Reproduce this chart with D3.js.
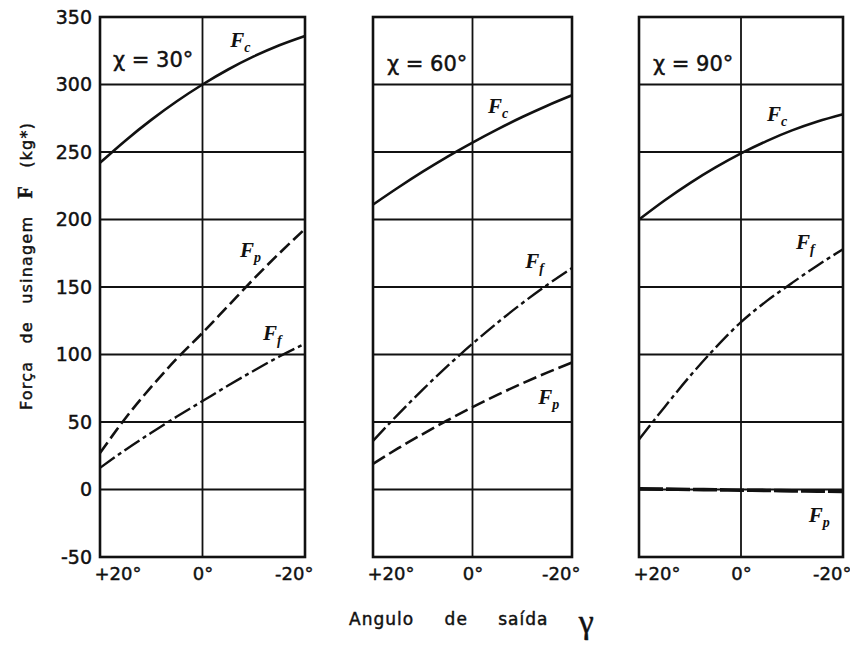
<!DOCTYPE html>
<html>
<head>
<meta charset="utf-8">
<script src="https://cdn.jsdelivr.net/npm/d3@7"></script>
<style>
  body { margin: 0; background: #fff; }
  svg text { fill: #111; }
  .thick { stroke: #111; stroke-width: 0.45px; }
</style>
</head>
<body>
<div id="chart"></div>
<script>
// rake angle gamma (deg), read left (+20) to right (-20)
var gammaValues = [20, 15, 10, 5, 0, -5, -10, -15, -20];
var yTicks = [-50, 0, 50, 100, 150, 200, 250, 300, 350];
var xTicks = [20, 0, -20];
var xTickLabels = ["+20°", "0°", "-20°"];
var chiValues = [30, 60, 90];

// chi = 30
var fc30 = [242, 258.6, 273.8, 287.6, 300, 311.1, 320.8, 329.1, 336];
var fp30 = [27, 53, 76, 97, 116, 136, 156, 175, 193];
var ff30 = [16, 29.5, 42, 54, 65.5, 77, 88, 98.5, 108];
// chi = 60
var fc60 = [211, 223.5, 235.4, 246.6, 257, 266.8, 275.9, 284.3, 292];
var ff60 = [36, 55.5, 74, 91.5, 108, 123.5, 138, 151.5, 164];
var fp60 = [19, 30.4, 41.1, 51.3, 61, 70.1, 78.6, 86.6, 94];
// chi = 90
var fc90 = [200, 214.1, 227, 238.6, 249, 258.1, 266, 272.6, 278];
var ff90 = [37, 61, 84, 105, 124, 139.5, 153, 166, 178];
var fp90 = [0.5, 0.3, 0, -0.2, -0.5, -0.7, -1, -1.2, -1.5];

// label anchors in data units [gamma, force]
var fcLabelPos = [[-5.4, 328], [-3.1, 279], [-5.1, 273]];
var fpLabelPos = [[-7.3, 172], [-13.2, 63], [-13.3, -24]];
var ffLabelPos = [[-11.8, 111], [-10.6, 164], [-10.8, 178]];

var panels = [
  {chi: chiValues[0], fc: fc30, fp: fp30, ff: ff30, left: 100, right: 305},
  {chi: chiValues[1], fc: fc60, fp: fp60, ff: ff60, left: 373, right: 572},
  {chi: chiValues[2], fc: fc90, fp: fp90, ff: ff90, left: 639, right: 843}
];

var W = 850, H = 646;
var svg = d3.select("#chart").append("svg")
  .attr("width", W).attr("height", H)
  .style("font-family", "'DejaVu Sans', sans-serif");

var y = d3.scaleLinear().domain([-50, 350]).range([557, 17]);

var styles = {
  fc: {dash: null, width: 2.6},
  fp: [{dash: "13,5", width: 2.6}, {dash: "14,5", width: 2.6}, {dash: "24,3", width: 3.6}],
  ff: [{dash: "18,4,4,4", width: 2.4}, {dash: "18,4,4,4", width: 2.4}, {dash: "18,4,4,4", width: 2.4}]
};

function forceLabel(g, x, pos, sub) {
  var t = g.append("text")
    .attr("x", x(pos[0]))
    .attr("y", y(pos[1]))
    .style("font-family", "'Liberation Serif', serif")
    .style("font-style", "italic")
    .style("font-weight", "bold")
    .style("font-size", "21px");
  t.append("tspan").text("F");
  t.append("tspan").attr("dy", 5).style("font-size", "14px").text(sub);
}

panels.forEach(function (p, i) {
  var x = d3.scaleLinear().domain([20, -20]).range([p.left, p.right]);
  var g = svg.append("g");

  // grid lines
  g.selectAll("line.h").data(yTicks).enter().append("line")
    .attr("x1", p.left).attr("x2", p.right)
    .attr("y1", function (d) { return y(d); })
    .attr("y2", function (d) { return y(d); })
    .attr("stroke", "#111").attr("stroke-width", 2);
  g.append("line")
    .attr("x1", x(0)).attr("x2", x(0))
    .attr("y1", y(350)).attr("y2", y(-50))
    .attr("stroke", "#111").attr("stroke-width", 1.8);
  g.append("rect")
    .attr("x", p.left).attr("y", y(350))
    .attr("width", p.right - p.left).attr("height", y(-50) - y(350))
    .attr("fill", "none").attr("stroke", "#111").attr("stroke-width", 2.6);

  // x axis labels
  var xAxis = g.append("g")
    .attr("transform", "translate(0," + y(-50) + ")")
    .call(d3.axisBottom(x).tickValues(xTicks).tickSize(0).tickPadding(10)
      .tickFormat(function (d, k) { return xTickLabels[k]; }));
  xAxis.select(".domain").remove();
  xAxis.selectAll("text")
    .attr("class", "thick")
    .style("font-size", "18px")
    .style("font-family", "'DejaVu Sans', sans-serif")
    .attr("fill", "#111")
    .attr("text-anchor", function (d, k) { return k === 0 ? "start" : (k === 2 ? "end" : "middle"); })
    .attr("dx", function (d, k) { return k === 0 ? -6 : (k === 2 ? 8 : 0); });

  // y axis on first panel only
  if (i === 0) {
    var yAxis = g.append("g")
      .attr("transform", "translate(" + p.left + ",0)")
      .call(d3.axisLeft(y).tickValues(yTicks).tickSize(0).tickPadding(8)
        .tickFormat(function (d) { return String(d); }));
    yAxis.select(".domain").remove();
    yAxis.selectAll("text")
      .attr("class", "thick")
      .style("font-size", "19px")
      .style("font-family", "'DejaVu Sans', sans-serif")
      .attr("fill", "#111");
  }

  var line = d3.line()
    .x(function (d, k) { return x(gammaValues[k]); })
    .y(function (d) { return y(d); })
    .curve(d3.curveMonotoneX);

  [["fc", styles.fc], ["fp", styles.fp[i]], ["ff", styles.ff[i]]].forEach(function (s) {
    g.append("path")
      .datum(p[s[0]])
      .attr("d", line)
      .attr("fill", "none")
      .attr("stroke", "#111")
      .attr("stroke-width", s[1].width)
      .attr("stroke-dasharray", s[1].dash);
  });

  // chi label
  g.append("text")
    .attr("class", "thick")
    .attr("x", p.left + (i === 0 ? 13 : 14))
    .attr("y", y(i === 0 ? 313 : 310))
    .style("font-size", "21px")
    .text("χ = " + p.chi + "°");

  forceLabel(g, x, fcLabelPos[i], "c");
  forceLabel(g, x, fpLabelPos[i], "p");
  forceLabel(g, x, ffLabelPos[i], "f");
});

// axis titles
var yt = svg.append("text")
  .attr("class", "thick")
  .attr("transform", "translate(32,266) rotate(-90)")
  .attr("text-anchor", "middle")
  .style("font-size", "16px")
  .style("letter-spacing", "1.2px")
  .style("word-spacing", "11px");
yt.append("tspan").text("Força de usinagem ");
yt.append("tspan").style("font-family", "'Liberation Serif', serif")
  .style("font-weight", "bold").style("font-size", "20px").text("F");
yt.append("tspan").text(" (kg*)");

var xt = svg.append("text")
  .attr("class", "thick")
  .attr("x", 472).attr("y", 625)
  .attr("text-anchor", "middle")
  .style("font-size", "17px")
  .style("letter-spacing", "1px")
  .style("word-spacing", "24px");
xt.append("tspan").text("Angulo de saída ");
xt.append("tspan").attr("dy", 8).style("font-size", "34px")
  .style("font-family", "'Liberation Serif', serif").text("γ");
</script>
</body>
</html>
